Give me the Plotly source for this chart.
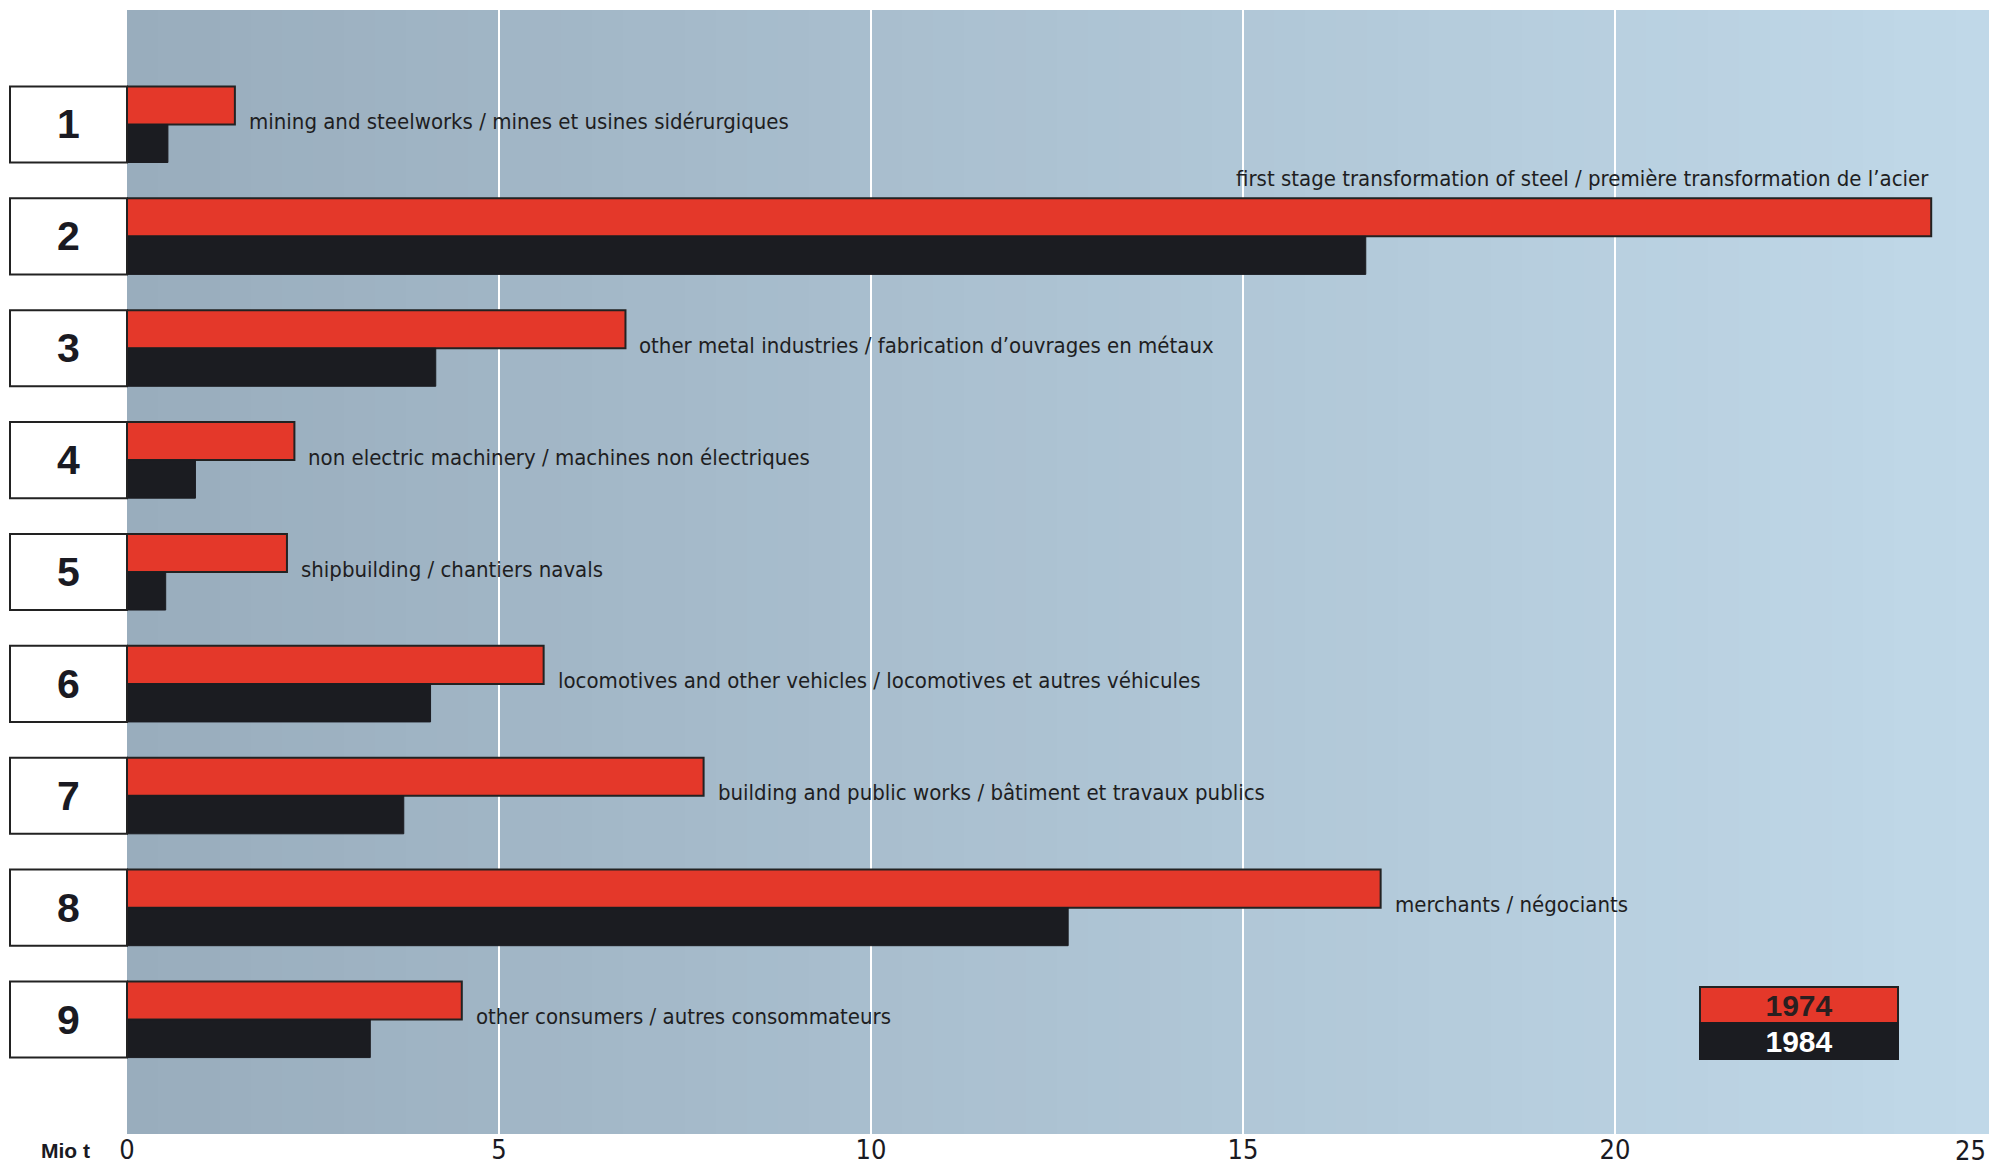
import plotly.graph_objects as go

# ---- data ----
numbers = ["1", "2", "3", "4", "5", "6", "7", "8", "9"]
labels = [
    "mining and steelworks / mines et usines sidérurgiques",
    "first stage transformation of steel / première transformation de l’acier",
    "other metal industries / fabrication d’ouvrages en métaux",
    "non electric machinery / machines non électriques",
    "shipbuilding / chantiers navals",
    "locomotives and other vehicles / locomotives et autres véhicules",
    "building and public works / bâtiment et travaux publics",
    "merchants / négociants",
    "other consumers / autres consommateurs",
]
val_1974 = [1.45, 24.25, 6.7, 2.25, 2.15, 5.6, 7.75, 16.85, 4.5]
val_1984 = [0.55, 16.65, 4.15, 0.92, 0.52, 4.08, 3.72, 12.65, 3.27]
years = ["1974", "1984"]
x_ticks = [0, 5, 10, 15, 20, 25]
unit_label = "Mio t"

RED = "#e4382a"
BLACK = "#1b1c21"
NARROW = "Liberation Sans Narrow, DejaVu Sans Condensed, Arial Narrow, sans-serif"
BOLD = "Liberation Sans, Arial, sans-serif"
TICKFONT = dict(family=NARROW, size=27, color="#1a1a22")

pos = list(range(len(numbers)))
bw = 0.34

fig = go.Figure()
fig.add_trace(go.Bar(
    y=pos, x=val_1974, orientation="h", width=bw, offset=-bw,
    marker=dict(color=RED, line=dict(color="#222222", width=2)),
    name=years[0], showlegend=False,
))
fig.add_trace(go.Bar(
    y=pos, x=val_1984, orientation="h", width=bw, offset=0,
    marker=dict(color=BLACK, line=dict(color=BLACK, width=1)),
    name=years[1], showlegend=False,
))

shapes = []
# background gradient (left darker grey-blue -> right lighter blue)
c0 = (0x99, 0xad, 0xbd)
c1 = (0xc0, 0xd8, 0xe8)
N = 60
for k in range(N):
    t = k / (N - 1)
    col = tuple(int(round(c0[j] + (c1[j] - c0[j]) * t)) for j in range(3))
    shapes.append(dict(
        type="rect", xref="paper", yref="paper",
        x0=k / N, x1=(k + 1) / N + 0.002, y0=0, y1=1,
        fillcolor="rgb(%d,%d,%d)" % col, line=dict(width=0), layer="below",
    ))

annotations = []
box_x0 = -117 / 1860
for i, n in enumerate(numbers):
    shapes.append(dict(
        type="rect", xref="paper", yref="y",
        x0=box_x0, x1=0, y0=i - bw, y1=i + bw,
        fillcolor="white", line=dict(color="#222222", width=2), layer="above",
    ))
    annotations.append(dict(
        xref="paper", yref="y", x=box_x0 / 2, y=i, text="<b>%s</b>" % n,
        showarrow=False, font=dict(family=BOLD, size=41, color="#1a1a22"),
        xanchor="center", yanchor="middle",
    ))
    if i == 1:
        annotations.append(dict(
            xref="x", yref="y", x=val_1974[i], y=i - bw, text=labels[i],
            showarrow=False, xanchor="right", yanchor="bottom", yshift=5,
            font=dict(family=NARROW, size=22, color="#1e1e22"),
        ))
    else:
        annotations.append(dict(
            xref="x", yref="y", x=val_1974[i], y=i, text=labels[i],
            showarrow=False, xanchor="left", yanchor="middle", xshift=12, yshift=3,
            font=dict(family=NARROW, size=22, color="#1e1e22"),
        ))

# last tick label sits right-aligned at the plot edge
tick_text = [str(v) for v in x_ticks]
last_tick = tick_text[-1]
tick_text[-1] = ""
annotations.append(dict(
    xref="x", yref="paper", x=x_ticks[-1], y=0, yshift=-16, text=last_tick,
    showarrow=False, xanchor="right", yanchor="middle", xshift=1, font=TICKFONT,
))

# unit label
annotations.append(dict(
    xref="paper", yref="paper", x=-62 / 1860, y=0, yshift=-16, text="<b>%s</b>" % unit_label,
    showarrow=False, xanchor="center", yanchor="middle",
    font=dict(family=BOLD, size=21, color="#1a1a22"),
))
# year legend boxes
annotations.append(dict(
    xref="paper", yref="paper", x=0.899, y=0.1152, text="<b>%s</b>" % years[0],
    showarrow=False, xanchor="center", yanchor="middle", width=196, height=34,
    bgcolor=RED, bordercolor="#222222", borderwidth=2, borderpad=0,
    font=dict(family=BOLD, size=30, color="#2a1f20"),
))
annotations.append(dict(
    xref="paper", yref="paper", x=0.899, y=0.0823, text="<b>%s</b>" % years[1],
    showarrow=False, xanchor="center", yanchor="middle", width=196, height=34,
    bgcolor=BLACK, bordercolor=BLACK, borderwidth=2, borderpad=0,
    font=dict(family=BOLD, size=30, color="white"),
))

fig.update_layout(
    width=1989, height=1157,
    margin=dict(l=119, r=10, t=2, b=31),
    paper_bgcolor="white", plot_bgcolor="#abc1d0",
    barmode="overlay",
    shapes=shapes, annotations=annotations,
    xaxis=dict(
        range=[0, 25], tickvals=x_ticks, ticktext=tick_text,
        showgrid=True, gridcolor="white", gridwidth=2, zeroline=False,
        showline=False, ticks="", ticklabeloverflow="allow", automargin=False,
        ticklabelstandoff=-3,
        tickfont=TICKFONT,
        fixedrange=True,
    ),
    yaxis=dict(
        range=[len(numbers) - 1 + 1.023, -1.023], showticklabels=False,
        showgrid=False, zeroline=False, showline=False, ticks="", automargin=False,
    ),
    showlegend=False,
)

fig.write_html("out.html")
